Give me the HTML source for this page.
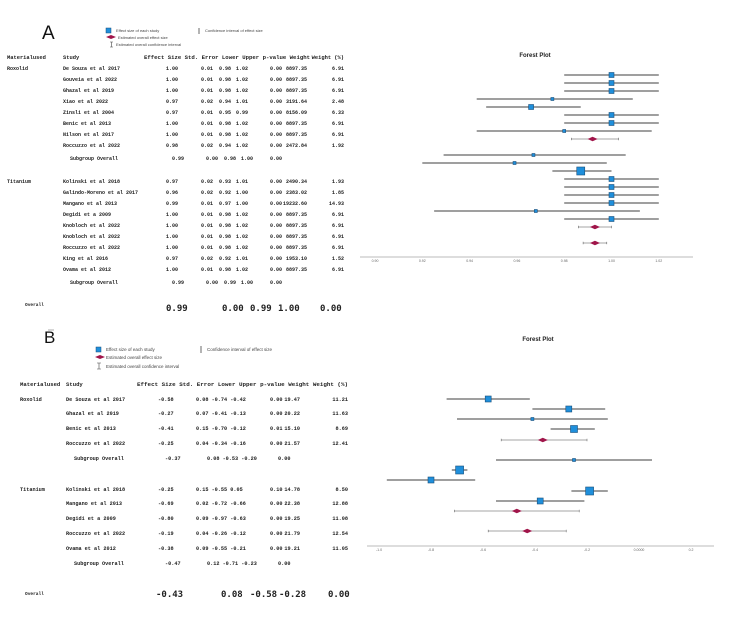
<!DOCTYPE html>
<html><head><meta charset="utf-8"><style>
body{margin:0;background:#fff;}
svg{display:block;font-family:"Liberation Mono",monospace;}
.t{font-weight:bold;fill:#222;}
.lg{font-family:"Liberation Sans",sans-serif;fill:#444;}
</style></head><body>
<svg id="s" width="734" height="621" viewBox="0 0 734 621" xmlns="http://www.w3.org/2000/svg">
<g>
<text x="42" y="39" font-family="Liberation Sans" font-size="19" fill="#111">A</text>
<rect x="106" y="28" width="5" height="5" fill="#1f8fdb" stroke="#1a4f7a" stroke-width="0.5"/>
<text class="lg" x="116" y="32" font-size="4">Effect size of each study</text>
<polygon points="106,37 111,35 116,37 111,39" fill="#a0154a"/>
<text class="lg" x="118" y="39" font-size="4">Estimated overall effect size</text>
<path d="M110,42h3M111.5,42v5M110,47h3" stroke="#444" stroke-width="0.6"/>
<text class="lg" x="116" y="46" font-size="4">Estimated overall confidence interval</text>
<line x1="199" y1="28" x2="199" y2="34" stroke="#444" stroke-width="0.8"/>
<text class="lg" x="205" y="32" font-size="4">Confidence interval of effect size</text>
</g>
<g>
<text x="44" y="343" font-family="Liberation Sans" font-size="17" fill="#111">B</text>
<rect x="96" y="347" width="5" height="5" fill="#1f8fdb" stroke="#1a4f7a" stroke-width="0.5"/>
<text class="lg" x="106" y="351" font-size="4.5">Effect size of each study</text>
<polygon points="95,357 100,355 105,357 100,359" fill="#a0154a"/>
<text class="lg" x="106" y="359" font-size="4.5">Estimated overall effect size</text>
<path d="M97,363h4M99,363v6M97,369h4" stroke="#444" stroke-width="0.6"/>
<text class="lg" x="106" y="368" font-size="4.5">Estimated overall confidence interval</text>
<line x1="201" y1="346" x2="201" y2="353" stroke="#444" stroke-width="0.8"/>
<text class="lg" x="207" y="351" font-size="4.5">Confidence interval of effect size</text>
</g>
<text x="535" y="57" font-family="Liberation Sans" font-size="6" font-weight="bold" text-anchor="middle" fill="#222">Forest Plot</text>
<text x="538" y="341" font-family="Liberation Sans" font-size="6" font-weight="bold" text-anchor="middle" fill="#222">Forest Plot</text>
<line x1="48" y1="330" x2="54" y2="330" stroke="#999" stroke-width="0.8"/>
<g id="tables"></g>
<g id="plots"></g>
</svg>
<script>
// ---------- Panel A data ----------
const aEffect=[1.00,1.00,1.00,0.975,0.966,1.00,1.00,0.98,0.992, 0.967,0.959,0.987,1.00,1.00,1.00,1.00,0.968,1.00,0.993, 0.993];
const aLower=[0.98,0.98,0.98,0.943,0.947,0.98,0.98,0.943,0.983, 0.929,0.92,0.975,0.98,0.98,0.98,0.98,0.925,0.98,0.986, 0.988];
const aUpper=[1.02,1.02,1.02,1.009,0.987,1.02,1.02,1.017,1.003, 1.006,0.998,1.0,1.02,1.02,1.02,1.02,1.012,1.02,1.0, 0.998];
const aKind=["s","s","s","s","s","s","s","s","d","s","s","s","s","s","s","s","s","s","d","d"];
const aSize=[5,5,5,3,5,5,5,3,0,3,3,8,5,5,5,5,3,5,0,0];
const aRowY=[75,83,91,99,107,115,123,131,139,155,163,171,179,187,195,203,211,219,227,243];
const aTicks=[0.90,0.92,0.94,0.96,0.98,1.00,1.02];
// ---------- Panel B data ----------
const bEffect=[-0.58,-0.27,-0.41,-0.25,-0.37, -0.25,-0.69,-0.80,-0.19,-0.38,-0.47, -0.43];
const bLower=[-0.74,-0.41,-0.70,-0.34,-0.53, -0.55,-0.72,-0.97,-0.26,-0.55,-0.71, -0.58];
const bUpper=[-0.42,-0.13,-0.12,-0.17,-0.20, 0.05,-0.66,-0.63,-0.12,-0.21,-0.23, -0.28];
const bKind=["s","s","s","s","d","s","s","s","s","s","d","d"];
const bSize=[6,6,3,7,0,3,8,6,8,6,0,0];
const bRowY=[399,409,419,429,440,460,470,480,491,501,511,531];
const bTicks=[-1.0,-0.8,-0.6,-0.4,-0.2,0.0,0.2];
const bTickLabels=["-1.0","-0.8","-0.6","-0.4","-0.2","0.0000","0.2"];

const NS="http://www.w3.org/2000/svg";
function mk(tag,attrs,parent){const e=document.createElementNS(NS,tag);for(const k in attrs)e.setAttribute(k,attrs[k]);parent.appendChild(e);return e;}
const plots=document.getElementById('plots');

function drawPanel(name,eff,lo,up,kind,size,rowY,ticks,labels,xs,axisY,axX1,axX2){
  const g=mk('g',{},plots);
  
  
  const ax=mk('line',{x1:axX1,y1:axisY,x2:axX2,y2:axisY,stroke:'#bbb','stroke-width':1},g);
  
  
  ticks.forEach((t,i)=>{
    const tx=mk('text',{x:xs(t),y:axisY+5,'font-size':3.5,'text-anchor':'middle',fill:'#666','font-family':'Liberation Sans'},g);
    tx.textContent=labels[i];
    
    
  });
  eff.forEach((v,i)=>{
    const y=rowY[i];
    const ln=mk('line',{x1:xs(lo[i]),y1:y,x2:xs(up[i]),y2:y,stroke:kind[i]==='d'?'#888':'#666','stroke-width':kind[i]==='d'?0.8:1.3},g);
    
    
    if(kind[i]==='d'){
      [lo[i],up[i]].forEach(e=>{mk('line',{x1:xs(e),y1:y-1.2,x2:xs(e),y2:y+1.2,stroke:'#666','stroke-width':0.6},g);});
      const x=xs(v);
      const d=mk('polygon',{points:`${x-5},${y} ${x},${y-2.3} ${x+5},${y} ${x},${y+2.3}`,fill:'#a0154a'},g);
      
      
    } else {
      const s=size[i],x=xs(v);
      const r=mk('rect',{x:x-s/2,y:y-s/2,width:s,height:s,fill:'#1f8fdb',stroke:'#1a4f7a','stroke-width':0.6},g);
      
      
    }
  });
}
const xA=v=>375+(v-0.90)/0.02*47.3;
const xB=v=>639+v/0.2*52;
drawPanel('panel-a',aEffect,aLower,aUpper,aKind,aSize,aRowY,aTicks,aTicks.map(t=>t.toFixed(2)),xA,257,360,693);
drawPanel('panel-b',bEffect,bLower,bUpper,bKind,bSize,bRowY,bTicks,bTickLabels,xB,546,367,714);

// ---------- Tables ----------
const tables=document.getElementById('tables');
function txt(s,x,y,fs,anchor,cls,extra){
  const t=mk('text',Object.assign({x:x,y:y,'font-size':fs,'text-anchor':anchor||'start'},extra||{}),tables);
  if(cls)t.setAttribute('class',cls);
  t.textContent=s;return t;
}
// Panel A table
const aStudies=["De Souza et al 2017","Gouveia et al 2022","Ghazal et al 2019","Xiao et al 2022","Zinsli et al 2004","Benic et al 2013","Nilson et al 2017","Roccuzzo et al 2022",
 "Kolinski et al 2018","Galindo-Moreno et al 2017","Mangano et al 2013","Degidi et a 2009","Knobloch et al 2022","Knobloch et al 2022","Roccuzzo et al 2022","King et al 2016","Ovama et al 2012"];
const aRows=[["1.00","0.01","0.98","1.02","0.00","8897.35","6.91"],["1.00","0.01","0.98","1.02","0.00","8897.35","6.91"],["1.00","0.01","0.98","1.02","0.00","8897.35","6.91"],["0.97","0.02","0.94","1.01","0.00","3191.64","2.48"],["0.97","0.01","0.95","0.99","0.00","8156.09","6.33"],["1.00","0.01","0.98","1.02","0.00","8897.35","6.91"],["1.00","0.01","0.98","1.02","0.00","8897.35","6.91"],["0.98","0.02","0.94","1.02","0.00","2472.84","1.92"],
 ["0.97","0.02","0.93","1.01","0.00","2490.34","1.93"],["0.96","0.02","0.92","1.00","0.00","2383.02","1.85"],["0.99","0.01","0.97","1.00","0.00","19232.60","14.93"],["1.00","0.01","0.98","1.02","0.00","8897.35","6.91"],["1.00","0.01","0.98","1.02","0.00","8897.35","6.91"],["1.00","0.01","0.98","1.02","0.00","8897.35","6.91"],["1.00","0.01","0.98","1.02","0.00","8897.35","6.91"],["0.97","0.02","0.92","1.01","0.00","1953.10","1.52"],["1.00","0.01","0.98","1.02","0.00","8897.35","6.91"]];
const aTY=[70,81,92,103,114,125,136,147,183,194,205,216,227,238,249,260,271];
const fa=5.0;
txt("Materialused",7,59,5.4,'start','t');txt("Study",63,59,5.4,'start','t');
txt("Effect Size Std. Error Lower Upper p-value Weight",144,59,5.4,'start','t',{textLength:166,lengthAdjust:'spacingAndGlyphs'});
txt("Weight (%)",344,59,5.4,'end','t');
txt("Roxolid",7,70,fa,'start','t');txt("Titanium",7,183,fa,'start','t');
aStudies.forEach((s,i)=>{const y=aTY[i],r=aRows[i];
 txt(s,63,y,fa,'start','t');txt(r[0],166,y,fa,'start','t');txt(r[1],201,y,fa,'start','t');txt(r[2],219,y,fa,'start','t');
 txt(r[3],236,y,fa,'start','t');txt(r[4],270,y,fa,'start','t');txt(r[5],307,y,fa,'end','t');txt(r[6],344,y,fa,'end','t');});
[[160,"0.99","0.00","0.98","1.00","0.00"],[284,"0.99","0.00","0.99","1.00","0.00"]].forEach(r=>{const y=r[0];
 txt("Subgroup Overall",70,y,fa,'start','t');txt(r[1],172,y,fa,'start','t');txt(r[2],206,y,fa,'start','t');txt(r[3],224,y,fa,'start','t');txt(r[4],241,y,fa,'start','t');txt(r[5],270,y,fa,'start','t');});
txt("Overall",25,306,4.5,'start','t');
[["0.99",166],["0.00",222],["0.99",250],["1.00",278],["0.00",320]].forEach(a=>txt(a[0],a[1],311,9,'start','t',{'font-family':'DejaVu Sans Mono','font-weight':'normal'}));
// Panel B table
const bStudies=["De Souza et al 2017","Ghazal et al 2019","Benic et al 2013","Roccuzzo et al 2022","Kolinski et al 2018","Mangano et al 2013","Degidi et a 2009","Roccuzzo et al 2022","Ovama et al 2012"];
const bRows=[["-0.58","0.08 -0.74 -0.42","0.00","19.47","11.21"],["-0.27","0.07 -0.41 -0.13","0.00","20.22","11.63"],["-0.41","0.15 -0.70 -0.12","0.01","15.10","8.69"],["-0.25","0.04 -0.34 -0.16","0.00","21.57","12.41"],
 ["-0.25","0.15 -0.55  0.05","0.10","14.78","8.50"],["-0.69","0.02 -0.72 -0.66","0.00","22.38","12.88"],["-0.80","0.09 -0.97 -0.63","0.00","19.25","11.08"],["-0.19","0.04 -0.26 -0.12","0.00","21.79","12.54"],["-0.38","0.09 -0.55 -0.21","0.00","19.21","11.05"]];
const bTY=[401,415,430,445,491,505,520,535,550];
const fb=5.2;
txt("Materialused",20,386,5.6,'start','t');txt("Study",66,386,5.6,'start','t');
txt("Effect Size Std. Error Lower Upper p-value Weight Weight (%)",137,386,5.6,'start','t',{textLength:211,lengthAdjust:'spacingAndGlyphs'});
txt("Roxolid",20,401,fb,'start','t');txt("Titanium",20,491,fb,'start','t');
bStudies.forEach((s,i)=>{const y=bTY[i],r=bRows[i];
 txt(s,66,y,fb,'start','t');txt(r[0],158,y,fb,'start','t');txt(r[1],196,y,fb,'start','t',{'xml:space':'preserve'});
 txt(r[2],270,y,fb,'start','t');txt(r[3],300,y,fb,'end','t');txt(r[4],348,y,fb,'end','t');});
[[460,"-0.37","0.08 -0.53 -0.20"],[565,"-0.47","0.12 -0.71 -0.23"]].forEach(r=>{const y=r[0];
 txt("Subgroup Overall",74,y,fb,'start','t');txt(r[1],165,y,fb,'start','t');txt(r[2],207,y,fb,'start','t');txt("0.00",278,y,fb,'start','t');});
txt("Overall",25,595,4.5,'start','t');
[["-0.43",156],["0.08",221],["-0.58",250],["-0.28",279],["0.00",328]].forEach(a=>txt(a[0],a[1],597,9,'start','t',{'font-family':'DejaVu Sans Mono','font-weight':'normal'}));
</script>
</body></html>
